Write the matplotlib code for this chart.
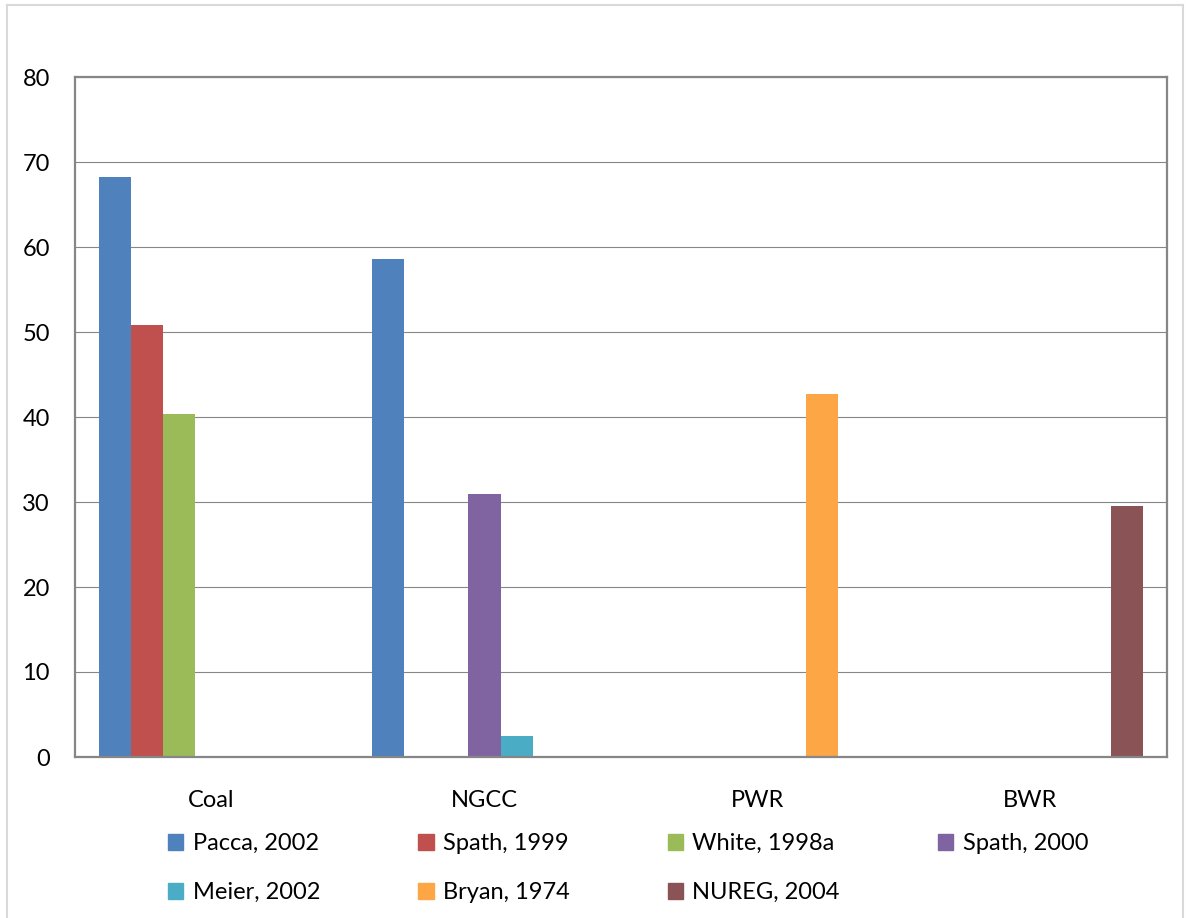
import matplotlib.pyplot as plt
from matplotlib.patches import Rectangle
from matplotlib.lines import Line2D

# categories and values
categories = ['Coal', 'NGCC', 'PWR', 'BWR']
series_names = ['Pacca, 2002', 'Spath, 1999', 'White, 1998a', 'Spath, 2000',
                'Meier, 2002', 'Bryan, 1974', 'NUREG, 2004']
pacca_2002 = [68.2, 58.6, 0, 0]
spath_1999 = [50.8, 0, 0, 0]
white_1998a = [40.3, 0, 0, 0]
spath_2000 = [0, 31.0, 0, 0]
meier_2002 = [0, 2.5, 0, 0]
bryan_1974 = [0, 0, 42.7, 0]
nureg_2004 = [0, 0, 0, 29.5]
yticks = [0, 10, 20, 30, 40, 50, 60, 70, 80]

series = [pacca_2002, spath_1999, white_1998a, spath_2000,
          meier_2002, bryan_1974, nureg_2004]
colors = ['#4F81BD', '#C0504D', '#9BBB59', '#8064A2',
          '#4BACC6', '#FCA646', '#8A5355']

plt.rcParams['font.family'] = ['Lato', 'DejaVu Sans']
FS = 17
GRAY = '#868686'

fig = plt.figure(figsize=(11.88, 9.18), dpi=100)
W, H = 1188, 918
ax = fig.add_axes([75 / W, 1 - 757 / H, (1167 - 75) / W, (757 - 77) / H])

# Excel style clustered bars, gap width 150%
n = len(series)
w = 1 / (n + 1.5)
for j, vals in enumerate(series):
    xs = [i + (j - (n - 1) / 2) * w for i in range(len(categories))]
    ax.bar(xs, vals, width=w, color=colors[j], linewidth=0,
           label=series_names[j], zorder=3)

ax.set_xlim(-0.5, len(categories) - 0.5)
ax.set_ylim(0, 80)
ax.set_yticks(yticks)
ax.set_xticks(range(len(categories)))
ax.set_xticklabels(categories)
ax.yaxis.grid(True, color=GRAY, linewidth=0.8, zorder=0)
ax.tick_params(axis='both', length=0, labelsize=FS, colors='black')
ax.tick_params(axis='y', pad=18)
ax.tick_params(axis='x', pad=24)
for s in ax.spines.values():
    s.set_color(GRAY)
    s.set_linewidth(1.6)
    s.set_zorder(4)

# legend in row order like Excel: fill column-wise lists
handles = [Rectangle((0, 0), 1, 1, color=c) for c in colors]
order = [0, 4, 1, 5, 2, 6, 3]
fig.legend([handles[k] for k in order], [series_names[k] for k in order],
           ncol=4, loc='upper left', bbox_to_anchor=(168 / W, 1 - 833 / H),
           frameon=False, fontsize=FS, handlelength=0.65, handleheight=0.65,
           handletextpad=0.4, columnspacing=4.15, labelspacing=1.2,
           borderaxespad=0, borderpad=0)

# outer chart border
fig.add_artist(Line2D([7 / W, 7 / W], [0, 1 - 5 / H], color='#D9D9D9', lw=1.5))
fig.add_artist(Line2D([7 / W, 1183 / W], [1 - 5 / H, 1 - 5 / H], color='#D9D9D9', lw=1.5))
fig.add_artist(Line2D([1183 / W, 1183 / W], [0, 1 - 5 / H], color='#D9D9D9', lw=1.5))

fig.savefig('out.png', dpi=100)
